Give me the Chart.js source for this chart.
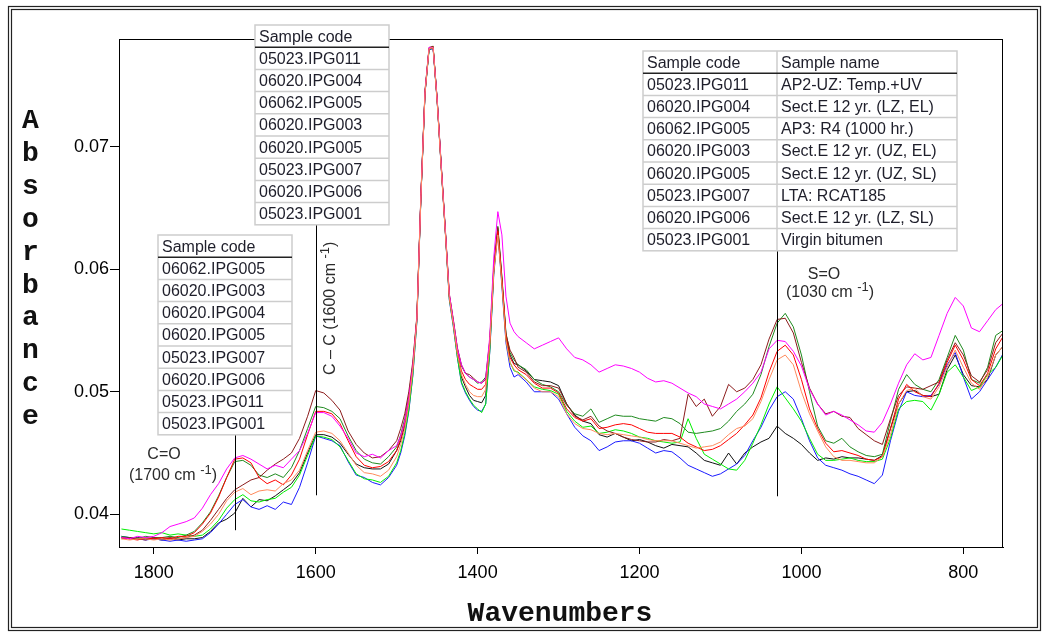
<!DOCTYPE html>
<html>
<head>
<meta charset="utf-8">
<title>Absorbance spectra</title>
<script src="https://cdn.jsdelivr.net/npm/chart.js@4.4.1/dist/chart.umd.min.js"></script>
<style>
  html, body { margin: 0; padding: 0; background: #fff; }
  #wrap { width: 1042px; height: 632px; }
  canvas { display: block; }
</style>
</head>
<body>
<div id="wrap"><canvas id="spectraChart" width="1042" height="632"></canvas></div>
<script>
// wavenumbers (cm-1), shared by every spectrum
const wavenumbers = [
  1840, 1830, 1820, 1810, 1800, 1790, 1780, 1770, 1760, 1750, 1740, 1730, 1720, 1710, 1700, 1690, 1680, 1670,
  1660, 1650, 1640, 1630, 1620, 1610, 1600, 1590, 1580, 1570, 1560, 1550, 1540, 1530, 1520, 1510, 1500,
  1495, 1490, 1485, 1480, 1475, 1470, 1465, 1460, 1455, 1450, 1445, 1440, 1435, 1430, 1425, 1420, 1415,
  1410, 1405, 1400, 1395, 1390, 1385, 1380, 1375, 1370, 1365, 1360, 1355,
  1350, 1340, 1330, 1320, 1310, 1300, 1290, 1280, 1270, 1260, 1250, 1240, 1230, 1220, 1210, 1200, 1190,
  1180, 1170, 1160, 1150, 1140, 1130, 1120, 1110, 1100, 1090, 1080, 1070, 1060, 1050, 1040, 1030, 1020,
  1010, 1000, 990, 980, 970, 960, 950, 940, 930, 920, 910, 900, 890, 880, 870, 860, 850, 840, 830, 820,
  810, 800, 790, 780, 770, 760, 751
];

const absIPG011 = [ // 05023.IPG011
  0.0380, 0.0381, 0.0380, 0.0379, 0.0381, 0.0380, 0.0381, 0.0380, 0.0381, 0.0383, 0.0387, 0.0395, 0.0404, 0.0413,
  0.0420, 0.0424, 0.0428, 0.0430, 0.0436, 0.0441, 0.0445, 0.0450, 0.0462, 0.0480, 0.0501, 0.0499, 0.0493, 0.0485,
  0.0468, 0.0457, 0.0450, 0.0446, 0.0447, 0.0452, 0.0460,
  0.0470, 0.0482, 0.0500, 0.0525, 0.0562, 0.0662, 0.0746, 0.0781, 0.0782, 0.0739, 0.0686, 0.0634, 0.0580, 0.0559,
  0.0536, 0.0522, 0.0515, 0.0514, 0.0511, 0.0508, 0.0507, 0.0510, 0.0541, 0.0602, 0.0634, 0.0593, 0.0547, 0.0534, 0.0528,
  0.0520, 0.0516, 0.0508, 0.0505, 0.0505, 0.0503, 0.0490, 0.0480, 0.0477, 0.0480, 0.0472, 0.0468, 0.0466, 0.0463,
  0.0461, 0.0460, 0.0459, 0.0459, 0.0461, 0.0460, 0.0462, 0.0498, 0.0488, 0.0494, 0.0480, 0.0488, 0.0506, 0.0500,
  0.0503, 0.0510, 0.0522, 0.0543, 0.0559, 0.0560, 0.0548, 0.0524, 0.0503, 0.0490, 0.0482, 0.0484, 0.0480, 0.0479,
  0.0470, 0.0465, 0.0460, 0.0457, 0.0478, 0.0497, 0.0504, 0.0503, 0.0502, 0.0505, 0.0508, 0.0526, 0.0540, 0.0530,
  0.0513, 0.0508, 0.0518, 0.0540, 0.0548
];
const absIPG004 = [ // 06020.IPG004
  0.0382, 0.0381, 0.0380, 0.0382, 0.0381, 0.0381, 0.0382, 0.0381, 0.0383, 0.0386, 0.0393, 0.0402, 0.0415, 0.0430,
  0.0443, 0.0444, 0.0440, 0.0432, 0.0430, 0.0433, 0.0430, 0.0438, 0.0452, 0.0470, 0.0488, 0.0487, 0.0484, 0.0478,
  0.0464, 0.0452, 0.0445, 0.0442, 0.0441, 0.0447, 0.0455,
  0.0465, 0.0478, 0.0497, 0.0522, 0.0561, 0.0661, 0.0745, 0.0780, 0.0782, 0.0739, 0.0685, 0.0633, 0.0579, 0.0558,
  0.0535, 0.0521, 0.0515, 0.0512, 0.0510, 0.0507, 0.0508, 0.0512, 0.0542, 0.0603, 0.0635, 0.0594, 0.0548, 0.0532, 0.0526,
  0.0522, 0.0518, 0.0510, 0.0506, 0.0504, 0.0500, 0.0489, 0.0482, 0.0480, 0.0486, 0.0475, 0.0478, 0.0481, 0.0480,
  0.0480, 0.0478, 0.0477, 0.0476, 0.0479, 0.0478, 0.0474, 0.0467, 0.0466, 0.0467, 0.0468, 0.0470, 0.0476, 0.0484,
  0.0490, 0.0498, 0.0514, 0.0537, 0.0556, 0.0564, 0.0553, 0.0530, 0.0500, 0.0472, 0.0460, 0.0458, 0.0462, 0.0455,
  0.0451, 0.0448, 0.0447, 0.0449, 0.0476, 0.0502, 0.0514, 0.0506, 0.0502, 0.0500, 0.0510, 0.0528, 0.0546, 0.0534,
  0.0510, 0.0507, 0.0520, 0.0546, 0.0550
];
const absIPG005b = [ // 06062.IPG005
  0.0381, 0.0380, 0.0382, 0.0381, 0.0382, 0.0385, 0.0390, 0.0392, 0.0394, 0.0397, 0.0405, 0.0416, 0.0425, 0.0437,
  0.0446, 0.0448, 0.0445, 0.0441, 0.0437, 0.0440, 0.0438, 0.0445, 0.0452, 0.0466, 0.0483, 0.0483, 0.0480, 0.0472,
  0.0462, 0.0450, 0.0447, 0.0449, 0.0446, 0.0452, 0.0456,
  0.0464, 0.0476, 0.0495, 0.0521, 0.0560, 0.0661, 0.0745, 0.0781, 0.0781, 0.0739, 0.0685, 0.0633, 0.0580, 0.0558,
  0.0535, 0.0522, 0.0515, 0.0512, 0.0510, 0.0508, 0.0507, 0.0511, 0.0545, 0.0610, 0.0647, 0.0628, 0.0578, 0.0556, 0.0549,
  0.0545, 0.0540, 0.0535, 0.0538, 0.0541, 0.0544, 0.0535, 0.0528, 0.0526, 0.0522, 0.0516, 0.0519, 0.0522, 0.0521,
  0.0519, 0.0516, 0.0511, 0.0508, 0.0509, 0.0507, 0.0503, 0.0499, 0.0496, 0.0490, 0.0488, 0.0486, 0.0490, 0.0494,
  0.0500, 0.0507, 0.0516, 0.0535, 0.0542, 0.0541, 0.0533, 0.0521, 0.0502, 0.0490, 0.0481, 0.0484, 0.0481, 0.0477,
  0.0473, 0.0468, 0.0467, 0.0475, 0.0490, 0.0507, 0.0522, 0.0531, 0.0526, 0.0528, 0.0546, 0.0564, 0.0577, 0.0570,
  0.0552, 0.0549, 0.0558, 0.0567, 0.0572
];
const absIPG003 = [ // 06020.IPG003
  0.0381, 0.0380, 0.0379, 0.0381, 0.0380, 0.0381, 0.0380, 0.0382, 0.0382, 0.0385, 0.0392, 0.0401, 0.0414, 0.0430,
  0.0445, 0.0446, 0.0442, 0.0430, 0.0425, 0.0428, 0.0424, 0.0432, 0.0445, 0.0465, 0.0484, 0.0484, 0.0482, 0.0474,
  0.0460, 0.0447, 0.0440, 0.0438, 0.0439, 0.0443, 0.0452,
  0.0462, 0.0475, 0.0494, 0.0520, 0.0560, 0.0660, 0.0744, 0.0780, 0.0781, 0.0738, 0.0684, 0.0632, 0.0578, 0.0556,
  0.0532, 0.0517, 0.0510, 0.0506, 0.0504, 0.0502, 0.0502, 0.0506, 0.0540, 0.0600, 0.0631, 0.0590, 0.0545, 0.0528, 0.0522,
  0.0518, 0.0514, 0.0507, 0.0503, 0.0503, 0.0499, 0.0486, 0.0479, 0.0476, 0.0478, 0.0470, 0.0471, 0.0473, 0.0474,
  0.0473, 0.0470, 0.0467, 0.0466, 0.0466, 0.0466, 0.0463, 0.0458, 0.0455, 0.0452, 0.0453, 0.0456, 0.0461, 0.0466,
  0.0473, 0.0481, 0.0495, 0.0516, 0.0533, 0.0538, 0.0530, 0.0510, 0.0486, 0.0470, 0.0458, 0.0451, 0.0452, 0.0450,
  0.0448, 0.0445, 0.0444, 0.0447, 0.0470, 0.0494, 0.0506, 0.0500, 0.0497, 0.0496, 0.0507, 0.0524, 0.0538, 0.0526,
  0.0510, 0.0505, 0.0515, 0.0535, 0.0545
];
const absIPG005 = [ // 06020.IPG005
  0.0380, 0.0379, 0.0380, 0.0380, 0.0379, 0.0380, 0.0379, 0.0380, 0.0381, 0.0382, 0.0386, 0.0392, 0.0400, 0.0411,
  0.0418, 0.0421, 0.0416, 0.0419, 0.0420, 0.0419, 0.0425, 0.0428, 0.0436, 0.0452, 0.0467, 0.0468, 0.0466, 0.0460,
  0.0450, 0.0440, 0.0434, 0.0433, 0.0431, 0.0436, 0.0447,
  0.0457, 0.0470, 0.0490, 0.0518, 0.0559, 0.0660, 0.0744, 0.0780, 0.0781, 0.0737, 0.0683, 0.0631, 0.0577, 0.0555,
  0.0531, 0.0514, 0.0506, 0.0500, 0.0497, 0.0496, 0.0496, 0.0502, 0.0538, 0.0598, 0.0628, 0.0588, 0.0542, 0.0524, 0.0518,
  0.0515, 0.0510, 0.0503, 0.0500, 0.0500, 0.0496, 0.0482, 0.0474, 0.0470, 0.0469, 0.0466, 0.0465, 0.0466, 0.0465,
  0.0464, 0.0463, 0.0461, 0.0460, 0.0460, 0.0460, 0.0458, 0.0456, 0.0454, 0.0455, 0.0456, 0.0459, 0.0465, 0.0470,
  0.0472, 0.0478, 0.0492, 0.0510, 0.0526, 0.0530, 0.0522, 0.0500, 0.0482, 0.0468, 0.0455, 0.0447, 0.0444, 0.0444,
  0.0443, 0.0442, 0.0442, 0.0447, 0.0465, 0.0490, 0.0501, 0.0503, 0.0496, 0.0494, 0.0504, 0.0520, 0.0534, 0.0520,
  0.0507, 0.0502, 0.0512, 0.0530, 0.0537
];
const absIPG007 = [ // 05023.IPG007
  0.0388, 0.0387, 0.0386, 0.0385, 0.0384, 0.0385, 0.0383, 0.0384, 0.0383, 0.0382, 0.0383, 0.0388, 0.0395, 0.0405,
  0.0412, 0.0416, 0.0411, 0.0410, 0.0412, 0.0413, 0.0418, 0.0422, 0.0432, 0.0448, 0.0464, 0.0463, 0.0461, 0.0455,
  0.0444, 0.0433, 0.0429, 0.0428, 0.0426, 0.0431, 0.0442,
  0.0452, 0.0466, 0.0485, 0.0514, 0.0558, 0.0659, 0.0744, 0.0779, 0.0781, 0.0738, 0.0684, 0.0632, 0.0576, 0.0554,
  0.0528, 0.0508, 0.0500, 0.0494, 0.0489, 0.0486, 0.0483, 0.0490, 0.0533, 0.0598, 0.0633, 0.0589, 0.0543, 0.0524, 0.0517,
  0.0516, 0.0510, 0.0504, 0.0502, 0.0501, 0.0498, 0.0484, 0.0476, 0.0471, 0.0472, 0.0466, 0.0467, 0.0469, 0.0468,
  0.0466, 0.0463, 0.0462, 0.0460, 0.0459, 0.0458, 0.0459, 0.0478, 0.0462, 0.0449, 0.0445, 0.0441, 0.0437, 0.0436,
  0.0444, 0.0458, 0.0473, 0.0490, 0.0504, 0.0495, 0.0486, 0.0476, 0.0462, 0.0449, 0.0444, 0.0444, 0.0445, 0.0446,
  0.0444, 0.0443, 0.0443, 0.0445, 0.0462, 0.0486, 0.0492, 0.0493, 0.0492, 0.0485, 0.0498, 0.0516, 0.0522, 0.0512,
  0.0501, 0.0504, 0.0514, 0.0520, 0.0530
];
const absIPG006 = [ // 06020.IPG006
  0.0382, 0.0381, 0.0380, 0.0379, 0.0380, 0.0379, 0.0378, 0.0379, 0.0378, 0.0379, 0.0380, 0.0385, 0.0392, 0.0400,
  0.0408, 0.0412, 0.0406, 0.0404, 0.0407, 0.0404, 0.0410, 0.0408, 0.0422, 0.0442, 0.0464, 0.0462, 0.0460, 0.0456,
  0.0443, 0.0432, 0.0430, 0.0426, 0.0424, 0.0430, 0.0440,
  0.0450, 0.0464, 0.0484, 0.0513, 0.0557, 0.0659, 0.0743, 0.0779, 0.0780, 0.0737, 0.0683, 0.0631, 0.0575, 0.0553,
  0.0528, 0.0507, 0.0499, 0.0493, 0.0488, 0.0485, 0.0484, 0.0490, 0.0532, 0.0596, 0.0630, 0.0586, 0.0540, 0.0520, 0.0512,
  0.0514, 0.0508, 0.0500, 0.0500, 0.0500, 0.0494, 0.0482, 0.0471, 0.0464, 0.0460, 0.0452, 0.0455, 0.0459, 0.0460,
  0.0460, 0.0458, 0.0454, 0.0450, 0.0452, 0.0451, 0.0446, 0.0440, 0.0437, 0.0434, 0.0431, 0.0433, 0.0437, 0.0441,
  0.0448, 0.0460, 0.0471, 0.0485, 0.0496, 0.0500, 0.0494, 0.0478, 0.0460, 0.0446, 0.0440, 0.0438, 0.0436, 0.0433,
  0.0431, 0.0428, 0.0425, 0.0432, 0.0460, 0.0484, 0.0500, 0.0497, 0.0496, 0.0497, 0.0506, 0.0522, 0.0532, 0.0512,
  0.0494, 0.0500, 0.0510, 0.0520, 0.0531
];
const absIPG001 = [ // 05023.IPG001
  0.0381, 0.0380, 0.0381, 0.0380, 0.0380, 0.0379, 0.0380, 0.0379, 0.0380, 0.0380, 0.0381, 0.0386, 0.0393, 0.0396,
  0.0401, 0.0413, 0.0406, 0.0412, 0.0411, 0.0415, 0.0420, 0.0425, 0.0434, 0.0450, 0.0465, 0.0465, 0.0463, 0.0458,
  0.0449, 0.0441, 0.0438, 0.0437, 0.0437, 0.0441, 0.0452,
  0.0460, 0.0472, 0.0491, 0.0519, 0.0560, 0.0660, 0.0744, 0.0780, 0.0781, 0.0738, 0.0684, 0.0632, 0.0578, 0.0556,
  0.0531, 0.0512, 0.0504, 0.0497, 0.0493, 0.0492, 0.0491, 0.0497, 0.0536, 0.0600, 0.0632, 0.0591, 0.0546, 0.0530, 0.0523,
  0.0522, 0.0517, 0.0510, 0.0509, 0.0508, 0.0505, 0.0490, 0.0481, 0.0476, 0.0474, 0.0465, 0.0463, 0.0466, 0.0463,
  0.0460, 0.0461, 0.0459, 0.0456, 0.0454, 0.0457, 0.0456, 0.0455, 0.0450, 0.0444, 0.0442, 0.0440, 0.0450, 0.0441,
  0.0450, 0.0455, 0.0459, 0.0462, 0.0472, 0.0466, 0.0462, 0.0457, 0.0450, 0.0444, 0.0446, 0.0445, 0.0447, 0.0446,
  0.0446, 0.0445, 0.0444, 0.0448, 0.0470, 0.0490, 0.0500, 0.0501, 0.0497, 0.0496, 0.0498, 0.0518, 0.0530, 0.0514,
  0.0505, 0.0504, 0.0510, 0.0530, 0.0537
];

const xTicks = [1800, 1600, 1400, 1200, 1000, 800];
const yTicks = [0.04, 0.05, 0.06, 0.07];

// table contents
const codesBySO = ['05023.IPG011', '06020.IPG004', '06062.IPG005', '06020.IPG003',
                   '06020.IPG005', '05023.IPG007', '06020.IPG006', '05023.IPG001'];
const namesBySO = ['AP2-UZ: Temp.+UV', 'Sect.E 12 yr. (LZ, EL)', 'AP3: R4 (1000 hr.)', 'Sect.E 12 yr. (UZ, EL)',
                   'Sect.E 12 yr. (UZ, SL)', 'LTA: RCAT185', 'Sect.E 12 yr. (LZ, SL)', 'Virgin bitumen'];
const codesByCC = ['05023.IPG011', '06020.IPG004', '06062.IPG005', '06020.IPG003',
                   '06020.IPG005', '05023.IPG007', '06020.IPG006', '05023.IPG001'];
const codesByCO = ['06062.IPG005', '06020.IPG003', '06020.IPG004', '06020.IPG005',
                   '05023.IPG007', '06020.IPG006', '05023.IPG011', '05023.IPG001'];

const series = [
  { label: '06020.IPG005', values: absIPG005, color: '#ff8a5c' },
  { label: '06062.IPG005', values: absIPG005b, color: '#ff00ff' },
  { label: '06020.IPG003', values: absIPG003, color: '#ff0000' },
  { label: '05023.IPG011', values: absIPG011, color: '#8b1c1c' },
  { label: '06020.IPG004', values: absIPG004, color: '#1f8a1f' },
  { label: '05023.IPG007', values: absIPG007, color: '#00ee00' },
  { label: '06020.IPG006', values: absIPG006, color: '#1a1aff' },
  { label: '05023.IPG001', values: absIPG001, color: '#111111' },
];

const SANS = '"Liberation Sans", Arial, sans-serif';
const MONO = '"Liberation Mono", "Courier New", monospace';
const ROW_H = 22.2;

function drawTable(ctx, x, y, colWidths, header, rows) {
  const w = colWidths.reduce((a, b) => a + b, 0);
  const h = ROW_H * (rows.length + 1);
  ctx.save();
  ctx.fillStyle = '#fff';
  ctx.fillRect(x, y, w, h);
  ctx.strokeStyle = '#cdcdcd';
  ctx.lineWidth = 1.5;
  ctx.strokeRect(x, y, w, h);
  for (let i = 2; i <= rows.length; i++) {
    ctx.beginPath();
    ctx.moveTo(x, y + i * ROW_H);
    ctx.lineTo(x + w, y + i * ROW_H);
    ctx.stroke();
  }
  let cx = x;
  for (let c = 0; c < colWidths.length - 1; c++) {
    cx += colWidths[c];
    ctx.beginPath();
    ctx.moveTo(cx, y);
    ctx.lineTo(cx, y + h);
    ctx.stroke();
  }
  ctx.strokeStyle = '#222';
  ctx.beginPath();
  ctx.moveTo(x, y + ROW_H);
  ctx.lineTo(x + w, y + ROW_H);
  ctx.stroke();

  ctx.fillStyle = '#1e1e2a';
  ctx.font = '16px ' + SANS;
  ctx.textAlign = 'left';
  ctx.textBaseline = 'middle';
  [header].concat(rows).forEach((row, r) => {
    let tx = x;
    row.forEach((cell, c) => {
      ctx.fillText(cell, tx + 4, y + r * ROW_H + ROW_H / 2 + 1);
      tx += colWidths[c];
    });
  });
  ctx.restore();
}

// text like "(1700 cm -1)" with a raised "-1"
function drawSupLabel(ctx, x, y, base, sup, tail, align) {
  ctx.font = '16px ' + SANS;
  const w1 = ctx.measureText(base).width;
  const w3 = ctx.measureText(tail).width;
  ctx.font = '13px ' + SANS;
  const w2 = ctx.measureText(sup).width;
  const sx = align === 'center' ? x - (w1 + w2 + w3) / 2 : x;
  ctx.textAlign = 'left';
  ctx.font = '16px ' + SANS;
  ctx.fillText(base, sx, y);
  ctx.font = '13px ' + SANS;
  ctx.fillText(sup, sx + w1, y - 6);
  ctx.font = '16px ' + SANS;
  ctx.fillText(tail, sx + w1 + w2, y);
}

const decorPlugin = {
  id: 'decor',
  afterDraw(chart) {
    const ctx = chart.ctx;
    const { left, top, right, bottom } = chart.chartArea;
    const xs = chart.scales.x;
    const ys = chart.scales.y;
    ctx.save();

    // double frame
    ctx.strokeStyle = '#222';
    ctx.lineWidth = 1.2;
    ctx.strokeRect(8.5, 6.5, 1032, 624);
    ctx.strokeRect(11.5, 9.5, 1026, 618);

    // plot box
    ctx.strokeStyle = '#000';
    ctx.lineWidth = 1;
    ctx.strokeRect(left + 0.5, top + 0.5, right - left - 1, bottom - top);

    // marker lines (wavenumber, top pixel = table bottom, lower end in absorbance)
    const markers = [
      { wn: 1700, from: 235 + ROW_H * 9, to: 0.0387 },
      { wn: 1600, from: 25 + ROW_H * 9, to: 0.04155 },
      { wn: 1030, from: 51 + ROW_H * 9, to: 0.04147 },
    ];
    markers.forEach(m => {
      const px = Math.round(xs.getPixelForValue(m.wn)) + 0.5;
      ctx.beginPath();
      ctx.moveTo(px, m.from);
      ctx.lineTo(px, ys.getPixelForValue(m.to));
      ctx.stroke();
    });

    // tables
    drawTable(ctx, 255, 25, [134], ['Sample code'], codesByCC.map(c => [c]));
    drawTable(ctx, 158, 235, [134], ['Sample code'], codesByCO.map(c => [c]));
    drawTable(ctx, 643, 51, [134, 180], ['Sample code', 'Sample name'],
      codesBySO.map((c, i) => [c, namesBySO[i]]));

    // band labels
    ctx.fillStyle = '#2a2a2a';
    ctx.textBaseline = 'middle';
    ctx.font = '16px ' + SANS;
    ctx.textAlign = 'center';
    ctx.fillText('C=O', 164, 455);
    drawSupLabel(ctx, 173, 476, '(1700 cm ', '-1', ')', 'center');
    ctx.textAlign = 'center';
    ctx.font = '16px ' + SANS;
    ctx.fillText('S=O', 824, 275);
    drawSupLabel(ctx, 830, 293, '(1030 cm ', '-1', ')', 'center');

    ctx.save();
    ctx.translate(331, 375);
    ctx.rotate(-Math.PI / 2);
    ctx.textBaseline = 'middle';
    drawSupLabel(ctx, 0, 0, 'C \u2013 C (1600 cm ', '-1', ')', 'left');
    ctx.restore();

    // axis titles
    ctx.fillStyle = '#111';
    ctx.font = 'bold 28px ' + MONO;
    ctx.textAlign = 'center';
    ctx.textBaseline = 'alphabetic';
    ctx.fillText('Wavenumbers', 560, 621);
    'Absorbance'.split('').forEach((ch, i) => {
      ctx.fillText(ch, 30.5, 128 + i * 32.9);
    });

    ctx.restore();
  }
};

const ctx = document.getElementById('spectraChart').getContext('2d');
new Chart(ctx, {
  type: 'line',
  data: {
    datasets: series.map(s => ({
      label: s.label,
      data: wavenumbers.map((wn, i) => ({ x: wn, y: s.values[i] })),
      borderColor: s.color,
      borderWidth: 1,
      pointRadius: 0,
      fill: false,
      tension: 0,
    })),
  },
  options: {
    responsive: false,
    animation: false,
    events: [],
    layout: { padding: { left: 0, top: 39, right: 39, bottom: 0 } },
    plugins: { legend: { display: false }, tooltip: { enabled: false } },
    scales: {
      x: {
        type: 'linear',
        reverse: true,
        min: 751,
        max: 1843,
        afterBuildTicks: scale => { scale.ticks = xTicks.map(v => ({ value: v })); },
        afterFit: scale => { scale.height = 85; },
        grid: { drawOnChartArea: false, tickLength: 7, tickColor: '#000' },
        border: { color: '#000', width: 1 },
        ticks: {
          color: '#000',
          padding: 8,
          maxRotation: 0,
          font: { family: SANS, size: 18 },
          callback: v => String(v),
        },
      },
      y: {
        type: 'linear',
        min: 0.03733,
        max: 0.07879,
        afterBuildTicks: scale => { scale.ticks = yTicks.map(v => ({ value: v })); },
        afterFit: scale => { scale.width = 119; },
        grid: { drawOnChartArea: false, tickLength: 9, tickColor: '#000' },
        border: { color: '#000', width: 1 },
        ticks: {
          color: '#000',
          padding: 1,
          font: { family: SANS, size: 18 },
          callback: v => v.toFixed(2),
        },
      },
    },
  },
  plugins: [decorPlugin],
});
</script>
</body>
</html>
